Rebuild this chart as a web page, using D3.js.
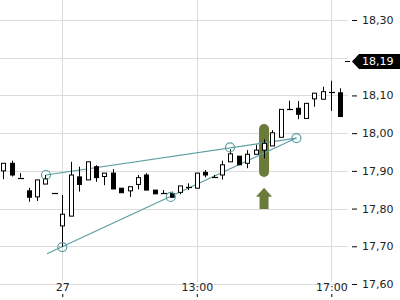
<!DOCTYPE html>
<html><head><meta charset="utf-8">
<script src="https://cdn.jsdelivr.net/npm/d3@7"></script>
<style>body{margin:0;background:#fff}svg{display:block}</style>
</head><body>
<svg id="c" width="400" height="300"></svg>
<script>
const open  = [17.900,17.920,17.882,17.847,17.831,17.865,17.840,17.754,17.780,17.884,17.876,17.911,17.885,17.894,17.854,17.847,17.864,17.889,17.849,17.840,17.840,17.843,17.858,17.854,17.896,17.883,17.889,17.924,17.939,17.920,17.944,17.955,17.966,17.989,18.063,18.066,18.039,18.091,18.090,18.110,18.107];
const high  = [17.920,17.927,17.894,17.855,17.876,17.889,17.840,17.836,17.924,17.911,17.924,17.915,17.894,17.905,17.854,17.858,17.889,17.894,17.849,17.849,17.845,17.860,17.867,17.894,17.902,17.889,17.927,17.957,17.939,17.955,17.969,17.984,18.008,18.063,18.086,18.085,18.079,18.106,18.123,18.139,18.119];
const low   = [17.878,17.885,17.882,17.818,17.820,17.865,17.840,17.699,17.780,17.845,17.876,17.871,17.862,17.852,17.842,17.831,17.851,17.849,17.839,17.840,17.830,17.838,17.849,17.854,17.883,17.883,17.877,17.924,17.916,17.907,17.944,17.933,17.966,17.989,18.063,18.037,18.039,18.070,18.090,18.059,18.044];
const close = [17.920,17.889,17.882,17.830,17.876,17.879,17.840,17.785,17.889,17.864,17.924,17.882,17.894,17.852,17.842,17.858,17.882,17.849,17.839,17.840,17.830,17.860,17.858,17.894,17.889,17.883,17.916,17.945,17.916,17.944,17.955,17.973,18.001,18.063,18.063,18.050,18.079,18.106,18.110,18.110,18.044];
const xTickIndex  = [7, 23, 39];
const xTickLabels = ["27", "13:00", "17:00"];
const yTicks = [17.6, 17.7, 17.8, 17.9, 18.0, 18.1, 18.2, 18.3];
const yLabelTicks = [17.6, 17.7, 17.8, 17.9, 18.0, 18.1, 18.3];
const lastPrice = 18.19;
// trendlines: [index, price] pairs
const upperLine = [[5.06, 17.889], [34.85, 17.987]];
const lowerLine = [[5.18, 17.680], [34.85, 17.987]];
const anchorIdx   = [5.06, 7, 19.9, 26.95, 34.85];
const anchorPrice = [17.889, 17.698, 17.831, 17.962, 17.987];
const signalIndex = 31, signalHigh = 18.024, signalLow = 17.884;
const arrowTop = 17.855, arrowBottom = 17.799;

const svg = d3.select("#c");
const x = d3.scaleLinear().domain([7, 39]).range([62.3, 331.3]);
const y = d3.scaleLinear().domain([17.6, 18.3]).range([284, 20]);
const fmt = v => d3.format(".2f")(v).replace(".", ",");
const px = v => Math.round(v) + 0.5;

// grid
const g = svg.append("g");
g.selectAll("line.h").data(yTicks).join("line")
  .attr("x1", 0).attr("x2", 348).attr("y1", d => px(y(d))).attr("y2", d => px(y(d)))
  .attr("stroke", "#dcdcdc");
g.selectAll("line.v").data(xTickIndex).join("line")
  .attr("x1", d => px(x(d))).attr("x2", d => px(x(d))).attr("y1", 0).attr("y2", 282)
  .attr("stroke", "#dcdcdc");

// signal pill
const sx = x(signalIndex);
svg.append("rect").attr("x", sx - 5).attr("width", 10)
  .attr("y", y(signalHigh)).attr("height", y(signalLow) - y(signalHigh))
  .attr("rx", 5).attr("fill", "#6b7b3a");
// arrow
const at = y(arrowTop), ab = y(arrowBottom);
svg.append("path").attr("fill", "#6b7b3a")
  .attr("d", `M${sx},${at} L${sx+8},${at+9} L${sx+4.5},${at+9} L${sx+4.5},${ab} L${sx-4.5},${ab} L${sx-4.5},${at+9} L${sx-8},${at+9} Z`);

// trendlines
const line = d3.line().x(d => x(d[0])).y(d => y(d[1]));
[upperLine, lowerLine].forEach(l => svg.append("path").attr("d", line(l))
  .attr("fill", "none").attr("stroke", "#5b9ea2").attr("stroke-width", 1.2));

// candles
const cg = svg.append("g");
d3.range(open.length).forEach(i => {
  const cx = px(x(i));
  const up = close[i] >= open[i];
  cg.append("line").attr("x1", cx).attr("x2", cx)
    .attr("y1", y(high[i])).attr("y2", y(low[i])).attr("stroke", "#000");
  const top = y(Math.max(open[i], close[i])), bot = y(Math.min(open[i], close[i]));
  if (bot - top < 1.5) {
    cg.append("line").attr("x1", cx - 2.5).attr("x2", cx + 3.5)
      .attr("y1", px(top)).attr("y2", px(top)).attr("stroke", "#000").attr("stroke-width", 1.2);
  } else {
    cg.append("rect").attr("x", cx - 2).attr("width", 4)
      .attr("y", top).attr("height", bot - top)
      .attr("fill", up ? "#fff" : "#000").attr("stroke", "#000");
  }
});

// anchor circles
svg.selectAll("circle").data(anchorIdx).join("circle")
  .attr("cx", d => x(d)).attr("cy", (d, i) => y(anchorPrice[i])).attr("r", 4.5)
  .attr("fill", "none").attr("stroke", "#5b9ea2").attr("stroke-width", 1.2);

// y axis
const ya = svg.append("g").attr("transform", "translate(352,0)")
  .call(d3.axisRight(y).tickValues(yLabelTicks).tickFormat(fmt).tickSize(5).tickPadding(5));
ya.select(".domain").remove();
ya.selectAll("text").attr("font-family", "DejaVu Sans").attr("font-size", 11).attr("fill", "#222");
ya.selectAll("line").attr("stroke", "#000");

// x axis
const xa = svg.append("g").attr("transform", "translate(0,294)")
  .call(d3.axisBottom(x).tickValues(xTickIndex).tickFormat((d, i) => xTickLabels[i]).tickSize(3));
xa.select(".domain").remove();
xa.selectAll("text").attr("y", -3).attr("dy", 0)
  .attr("font-family", "DejaVu Sans").attr("font-size", 11).attr("fill", "#222");
xa.selectAll("line").attr("stroke", "#000");

// last price label
const ly = px(y(lastPrice));
svg.append("line").attr("x1", 345).attr("x2", 350).attr("y1", ly).attr("y2", ly).attr("stroke", "#000");
svg.append("path").attr("fill", "#000")
  .attr("d", `M352,${ly} L359,${ly-7.5} L400,${ly-7.5} L400,${ly+7.5} L359,${ly+7.5} Z`);
svg.append("text").attr("x", 362).attr("y", ly).attr("dy", "0.35em")
  .attr("font-family", "DejaVu Sans").attr("font-size", 11).attr("fill", "#fff").text(fmt(lastPrice));
</script>
</body></html>
